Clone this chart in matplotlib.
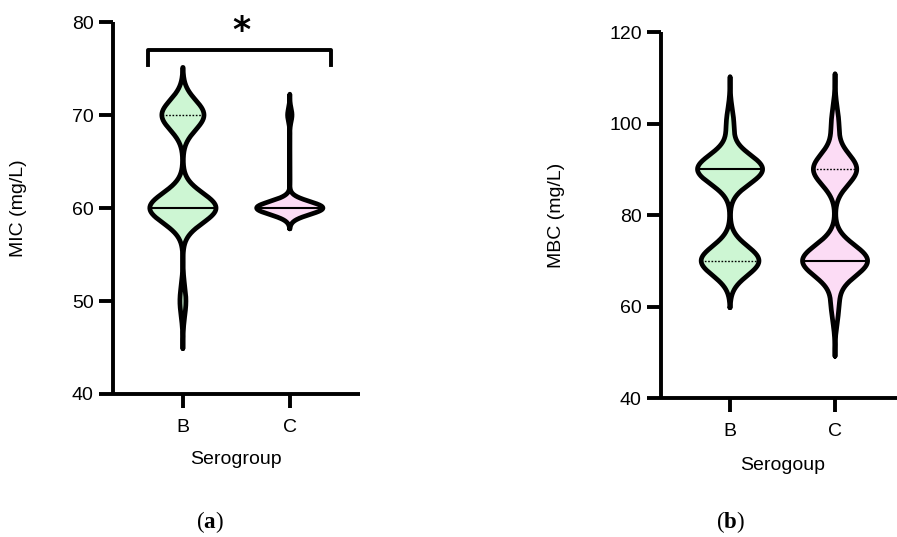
import numpy as np
import matplotlib.pyplot as plt

plt.rcParams['font.family'] = ['Liberation Sans', 'DejaVu Sans']
plt.rcParams['mathtext.fontset'] = 'custom'
plt.rcParams['mathtext.rm'] = 'Liberation Serif'
plt.rcParams['mathtext.bf'] = 'Liberation Serif:bold'

# -----------------------------
# Input data (value -> number of isolates)
# -----------------------------

groups = ["B", "C"]

mic_values = [50, 60, 70]
mic_counts_b = [1, 11, 7]
mic_counts_c = [0, 15, 1]

mbc_values = [60, 70, 90, 100]
mbc_counts_b = [0, 8, 9, 1]
mbc_counts_c = [1, 9, 6, 1]

# kernel bandwidth per violin (mg/L)
mic_bw = [1.6, 0.7]
mbc_bw = [3.2, 3.4]

green = "#cdf6d3"
pink = "#fcdcf5"
colors = [green, pink]

LW = 3.4
HALF = 0.31


def expand(values, counts):
    return np.repeat(values, counts).astype(float)


def quartiles(obs):
    # Prism-style percentile positions (n + 1) * p
    s = np.sort(obs)
    n = len(s)
    out = []
    for p in (0.25, 0.5, 0.75):
        pos = (n + 1) * p - 1
        lo = int(np.floor(pos))
        hi = min(lo + 1, n - 1)
        out.append(s[lo] + (s[hi] - s[lo]) * (pos - lo))
    return out


def violin(ax, x0, obs, bw, color):
    cut = 3.2 * bw
    y = np.linspace(obs.min() - cut, obs.max() + cut, 600)
    dens = np.exp(-0.5 * ((y[:, None] - obs[None, :]) / bw) ** 2).sum(axis=1)
    w = dens / dens.max() * HALF

    ax.fill_betweenx(y, x0 - w, x0 + w, color=color, lw=0, zorder=2)

    q1, med, q3 = quartiles(obs)
    for q, style, lw in ((q1, (0, (1.2, 1.2)), 1.0), (q3, (0, (1.2, 1.2)), 1.0),
                         (med, "-", 1.5)):
        if style != "-" and np.isclose(q, med):
            continue
        hw = np.interp(q, y, w)
        ax.plot([x0 - hw, x0 + hw], [q, q], color="black", lw=lw,
                ls=style, zorder=3)

    xs = np.concatenate([x0 - w, (x0 + w)[::-1], [x0 - w[0]]])
    ys = np.concatenate([y, y[::-1], [y[0]]])
    ax.plot(xs, ys, color="black", lw=LW, solid_joinstyle="round",
            solid_capstyle="round", zorder=4)


def style_axes(ax, yticks, xlim):
    ax.set_xlim(*xlim)
    ax.set_ylim(yticks[0], yticks[-1])
    ax.set_yticks(yticks)
    ax.set_xticks(range(len(groups)))
    ax.set_xticklabels(groups)
    for side in ("top", "right"):
        ax.spines[side].set_visible(False)
    for side in ("left", "bottom"):
        ax.spines[side].set_linewidth(2.8)
        ax.spines[side].set_capstyle("butt")
    ax.tick_params(width=2.8, length=10, labelsize=14, pad=4)
    ax.tick_params(axis="x", pad=8)


fig = plt.figure(figsize=(8.97, 5.37), dpi=100)

# -----------------------------
# (a) MIC
# -----------------------------

ax1 = fig.add_axes([0.126, 0.2663, 0.275, 0.6927])
for i, (counts, bw) in enumerate(zip([mic_counts_b, mic_counts_c], mic_bw)):
    violin(ax1, i, expand(mic_values, counts), bw, colors[i])
style_axes(ax1, [40, 50, 60, 70, 80], (-0.654, 1.654))
ax1.set_ylabel("MIC (mg/L)", fontsize=14)
ax1.yaxis.set_label_coords(-0.348, 0.5)
ax1.set_xlabel("Serogroup", fontsize=14, va="center")
ax1.xaxis.set_label_coords(0.5, -0.175)

# significance bracket
ax1.plot([-0.33, -0.33, 1.39, 1.39], [75.4, 77.0, 77.0, 75.4], color="black",
         lw=2.8, solid_joinstyle="round", clip_on=False)
ax1.text(0.55, 79.0, "*", ha="center", va="center", fontsize=25,
         fontweight="bold", family="DejaVu Sans")

# -----------------------------
# (b) MBC
# -----------------------------

ax2 = fig.add_axes([0.737, 0.2588, 0.263, 0.6816])
for i, (counts, bw) in enumerate(zip([mbc_counts_b, mbc_counts_c], mbc_bw)):
    violin(ax2, i, expand(mbc_values, counts), bw, colors[i])
style_axes(ax2, [40, 60, 80, 100, 120], (-0.657, 1.59))
ax2.set_ylabel("MBC (mg/L)", fontsize=14)
ax2.yaxis.set_label_coords(-0.407, 0.5)
ax2.set_xlabel("Serogoup", fontsize=14, va="center")
ax2.xaxis.set_label_coords(0.517, -0.183)

fig.text(0.234, 0.004, r"$\mathrm{(}\mathbf{a}\mathrm{)}$", ha="center",
         va="bottom", fontsize=16.5)
fig.text(0.814, 0.004, r"$\mathrm{(}\mathbf{b}\mathrm{)}$", ha="center",
         va="bottom", fontsize=16.5)

fig.savefig("out.png", dpi=100)
